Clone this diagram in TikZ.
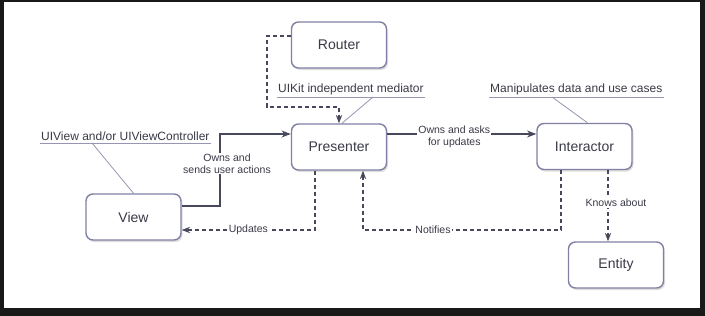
\documentclass[tikz,border=0pt]{standalone}
\usepackage{fontspec}
\setmainfont{Liberation Sans}
\usetikzlibrary{arrows.meta,calc,shadows}
\definecolor{boxline}{RGB}{128,128,165}
\definecolor{arrline}{RGB}{72,72,92}
\definecolor{txt}{RGB}{58,58,72}
\definecolor{callline}{RGB}{150,150,178}

\begin{document}
\begin{tikzpicture}[x=1pt, y=-1pt, >=Stealth,
  box/.style={draw=boxline, line width=1.4pt, rounded corners=7pt, fill=white,
    minimum width=95pt, minimum height=46pt, text=txt, font=\fontsize{14}{16}\selectfont,
    drop shadow={shadow xshift=1.5pt, shadow yshift=-2pt, fill=black!25}},
  sline/.style={draw=arrline, line width=1.4pt, ->},
  dline/.style={draw=arrline, line width=1.2pt, dash pattern=on 4pt off 3pt, ->},
  elab/.style={fill=white, text=txt, inner sep=1pt, align=center,
    font=\fontsize{10.5}{12}\selectfont},
  callout/.style={text=txt, inner xsep=1pt, inner ysep=2pt, font=\fontsize{12}{14}\selectfont},
  cline/.style={draw=callline, line width=0.8pt}]
% --- frame ---
\fill[black!90] (0,0) rectangle (705,316);
\fill[white] (4,1.5) rectangle (700,308);
\useasboundingbox (0,0) rectangle (705,316);
% --- boxes ---
\foreach \n/\x/\y in {Router/339/45,Presenter/339/147,Interactor/584.5/146.5,View/133.5/217,Entity/616/265}
  {\node[box] (\n) at (\x,\y) {\n};}
% --- callouts ---
\node[callout, anchor=south west] (cView) at (40,143) {UIView and/or UIViewController};
\draw[cline] (cView.south west) -- (cView.south east);
\draw[cline] (92,143) -- (View.north);
\node[callout, anchor=south west] (cPres) at (277,97) {UIKit independent mediator};
\draw[cline] (cPres.south west) -- (cPres.south east);
\draw[cline] (373,97) -- ([xshift=3pt]Presenter.north);
\node[callout, anchor=south west] (cInt) at (489,97) {Manipulates data and use cases};
\draw[cline] (cInt.south west) -- (cInt.south east);
\draw[cline] (552,97) -- ([xshift=3pt]Interactor.north);
% --- connectors ---
\coordinate (rk) at (267,107);
\draw[dline] ([yshift=9pt]Router.west) -| (rk) -| (Presenter.north);
\coordinate (vp) at (220,134);
\draw[sline] ([yshift=11pt]View.east) -| (vp) -- ([yshift=13pt]Presenter.west);
\node[elab] (lOwns) at (227,163.5) {Owns and\\sends user actions};
\draw[sline] ([yshift=13pt]Presenter.east) -- ([yshift=12.5pt]Interactor.west)
  node[elab, pos=0.45, yshift=-3pt] (lAsks) {Owns and asks\\for updates};
\draw[dline] ([xshift=-24pt]Presenter.south) |- ([yshift=-13pt]View.east)
  node[elab, pos=0.75] (lUpd) {Updates};
\coordinate (nt) at (363,230);
\draw[dline] ([xshift=-23.5pt]Interactor.south) |- (nt) -- ([xshift=24pt]Presenter.south);
\node[elab] (lNotif) at (433,230) {Notifies};
\draw[dline] ([xshift=23.5pt]Interactor.south) -- ([xshift=-8pt]Entity.north);
\node[elab] (lKnows) at (616,203) {Knows about};
\end{tikzpicture}
\end{document}
